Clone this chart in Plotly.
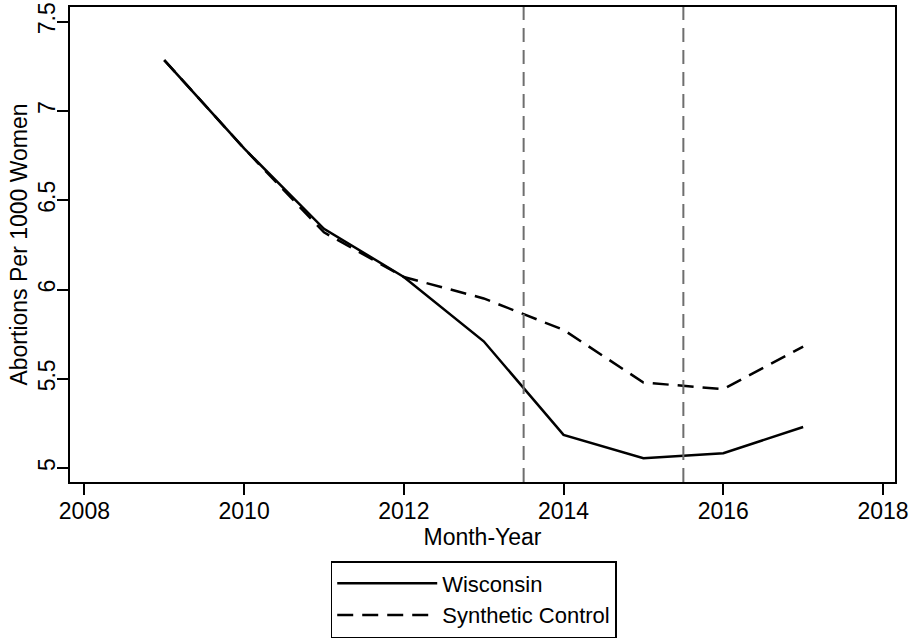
import plotly.graph_objects as go

# Annual abortion rates, Wisconsin vs. its synthetic control
years = [2009, 2010, 2011, 2012, 2013, 2014, 2015, 2016, 2017]
wisconsin = [7.285, 6.79, 6.34, 6.07, 5.71, 5.186, 5.055, 5.083, 5.23]
synthetic = [7.285, 6.79, 6.32, 6.07, 5.95, 5.774, 5.479, 5.442, 5.68]

# Policy timing markers
event_lines = [2013.5, 2015.5]

x_ticks = [2008, 2010, 2012, 2014, 2016, 2018]
y_ticks = [5, 5.5, 6, 6.5, 7, 7.5]
y_tick_text = ["5", "5.5", "6", "6.5", "7", "7.5"]

FONT = "Liberation Sans, Arial, sans-serif"

fig = go.Figure()
fig.add_trace(go.Scatter(
    x=years, y=wisconsin, mode="lines", name="Wisconsin",
    line=dict(color="black", width=2.5),
))
fig.add_trace(go.Scatter(
    x=years, y=synthetic, mode="lines", name="Synthetic Control",
    line=dict(color="black", width=2.5, dash="16px,9px"),
))

for xv in event_lines:
    fig.add_vline(x=xv, line=dict(color="#6e6e6e", width=2, dash="14px,8px"))

axis_common = dict(
    showline=True, linecolor="black", linewidth=2, mirror=True,
    ticks="outside", ticklen=11, tickwidth=1.5, tickcolor="black",
    showgrid=False, zeroline=False,
    tickfont=dict(family=FONT, size=23, color="black"),
)

fig.update_xaxes(
    range=[2007.82, 2018.15], tickvals=x_ticks,
    ticklabelstandoff=-4,
    title=dict(text="Month-Year", font=dict(family=FONT, size=23, color="black"), standoff=0),
    **axis_common,
)
fig.update_yaxes(
    range=[4.922, 7.582], tickvals=y_ticks, ticktext=y_tick_text, tickangle=-90,
    ticklabelstandoff=-7,
    title=dict(text="Abortions Per 1000 Women", font=dict(family=FONT, size=23, color="black"), standoff=0),
    **axis_common,
)

fig.update_layout(
    width=911, height=638,
    margin=dict(l=70, r=16, t=7, b=156, autoexpand=False),
    paper_bgcolor="white", plot_bgcolor="white",
    font=dict(family=FONT, color="black"),
    legend=dict(
        x=0.52, xref="container", y=1 - 561 / 638, yref="container",
        xanchor="center", yanchor="top",
        bordercolor="black", borderwidth=1.5,
        font=dict(family=FONT, size=22, color="black"),
        itemwidth=100,
    ),
)

fig.write_html("out.html")
